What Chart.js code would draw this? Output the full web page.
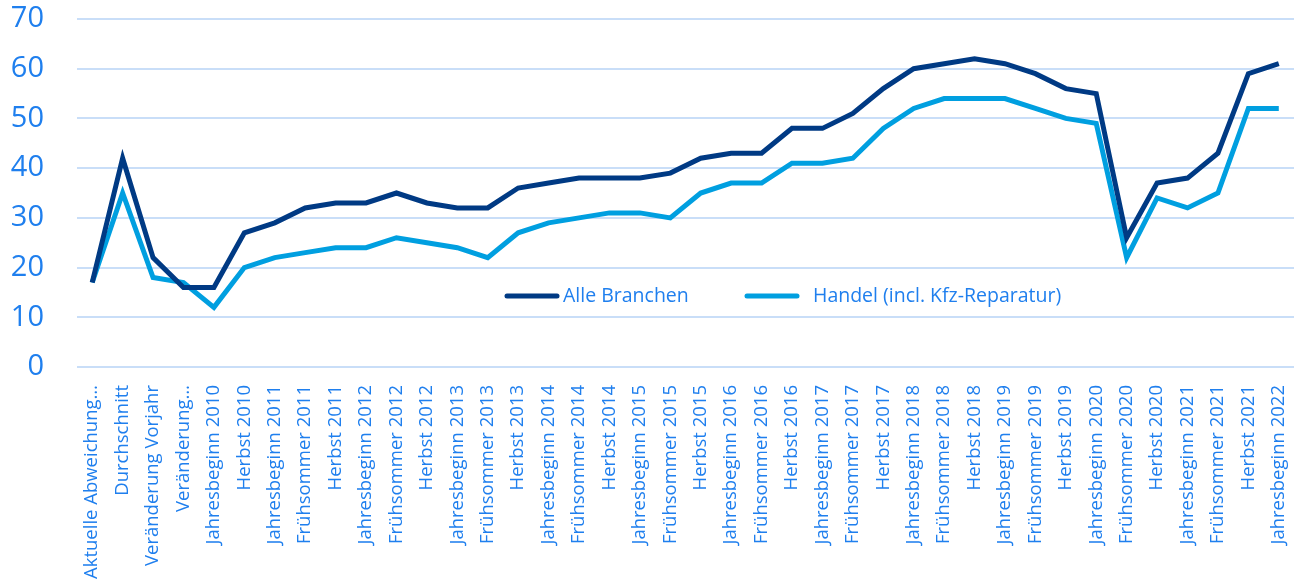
<!DOCTYPE html>
<html>
<head>
<meta charset="utf-8">
<script src="https://cdn.jsdelivr.net/npm/chart.js@4.4.1/dist/chart.umd.min.js"></script>
<style>
  html, body { margin: 0; padding: 0; background: #fff; }
  #wrap { width: 1294px; height: 581px; }
</style>
</head>
<body>
<div id="wrap"><canvas id="chart" width="1294" height="581"></canvas></div>
<script>
// categories (x axis)
const labels = [
  "Aktuelle Abweichung…", "Durchschnitt", "Veränderung Vorjahr", "Veränderung…",
  "Jahresbeginn 2010", "Herbst 2010",
  "Jahresbeginn 2011", "Frühsommer 2011", "Herbst 2011",
  "Jahresbeginn 2012", "Frühsommer 2012", "Herbst 2012",
  "Jahresbeginn 2013", "Frühsommer 2013", "Herbst 2013",
  "Jahresbeginn 2014", "Frühsommer 2014", "Herbst 2014",
  "Jahresbeginn 2015", "Frühsommer 2015", "Herbst 2015",
  "Jahresbeginn 2016", "Frühsommer 2016", "Herbst 2016",
  "Jahresbeginn 2017", "Frühsommer 2017", "Herbst 2017",
  "Jahresbeginn 2018", "Frühsommer 2018", "Herbst 2018",
  "Jahresbeginn 2019", "Frühsommer 2019", "Herbst 2019",
  "Jahresbeginn 2020", "Frühsommer 2020", "Herbst 2020",
  "Jahresbeginn 2021", "Frühsommer 2021", "Herbst 2021",
  "Jahresbeginn 2022"
];

// series
const alleBranchen = [
  17, 42, 22, 16, 16, 27, 29, 32, 33, 33, 35, 33, 32, 32, 36, 37, 38, 38, 38, 39,
  42, 43, 43, 48, 48, 51, 56, 60, 61, 62, 61, 59, 56, 55, 26, 37, 38, 43, 59, 61
];
const handel = [
  17, 35, 18, 17, 12, 20, 22, 23, 24, 24, 26, 25, 24, 22, 27, 29, 30, 31, 31, 30,
  35, 37, 37, 41, 41, 42, 48, 52, 54, 54, 54, 52, 50, 49, 22, 34, 32, 35, 52, 52
];

// y axis
const yMin = 0;
const yMax = 70;
const yStep = 10;

const TEXT_BLUE = "#1f7fee";
const DARK = "#003a84";
const LIGHT = "#009fe0";
const GRID = "#c9def8";
const FONT = "'Open Sans', 'Noto Sans', sans-serif";

// legend drawn inside the plot area
const innerLegend = {
  id: "innerLegend",
  afterDraw(chart) {
    const ctx = chart.ctx;
    const y = chart.scales.y.getPixelForValue(14.3);
    const items = [
      { x: 507, text: "Alle Branchen", color: DARK, gap: 6 },
      { x: 747, text: "Handel (incl. Kfz-Reparatur)", color: LIGHT, gap: 16 }
    ];
    ctx.save();
    ctx.lineCap = "round";
    ctx.lineWidth = 5;
    ctx.font = "19.5px " + FONT;
    ctx.fillStyle = TEXT_BLUE;
    ctx.textBaseline = "middle";
    items.forEach(it => {
      ctx.strokeStyle = it.color;
      ctx.beginPath();
      ctx.moveTo(it.x, y);
      ctx.lineTo(it.x + 50, y);
      ctx.stroke();
      ctx.fillText(it.text, it.x + 50 + it.gap, y + 1);
    });
    ctx.restore();
  }
};

new Chart(document.getElementById("chart"), {
  type: "line",
  data: {
    labels,
    datasets: [
      { label: "Alle Branchen", data: alleBranchen, borderColor: DARK, borderWidth: 5, pointRadius: 0, tension: 0 },
      { label: "Handel (incl. Kfz-Reparatur)", data: handel, borderColor: LIGHT, borderWidth: 5, pointRadius: 0, tension: 0 }
    ]
  },
  options: {
    responsive: false,
    animation: false,
    layout: { padding: { top: 19, right: 0, left: 0, bottom: 0 } },
    plugins: {
      legend: { display: false },
      tooltip: { enabled: false }
    },
    scales: {
      x: {
        offset: true,
        grid: { display: false },
        border: { display: false },
        ticks: {
          autoSkip: false,
          minRotation: 90,
          maxRotation: 90,
          color: TEXT_BLUE,
          font: { family: FONT, size: 18.5 },
          padding: 10
        },
        afterFit(s) {
          s.height = 214;
          s.paddingLeft = 0;
          s.paddingRight = 0;
        }
      },
      y: {
        min: yMin,
        max: yMax,
        grid: { color: GRID, lineWidth: 2, drawTicks: false },
        border: { display: false },
        ticks: {
          stepSize: yStep,
          color: TEXT_BLUE,
          font: { family: FONT, size: 29 },
          padding: 33
        },
        afterFit(s) {
          s.width = 77;
          s.paddingTop = 0;
          s.paddingBottom = 0;
        }
      }
    }
  },
  plugins: [innerLegend]
});
</script>
</body>
</html>
